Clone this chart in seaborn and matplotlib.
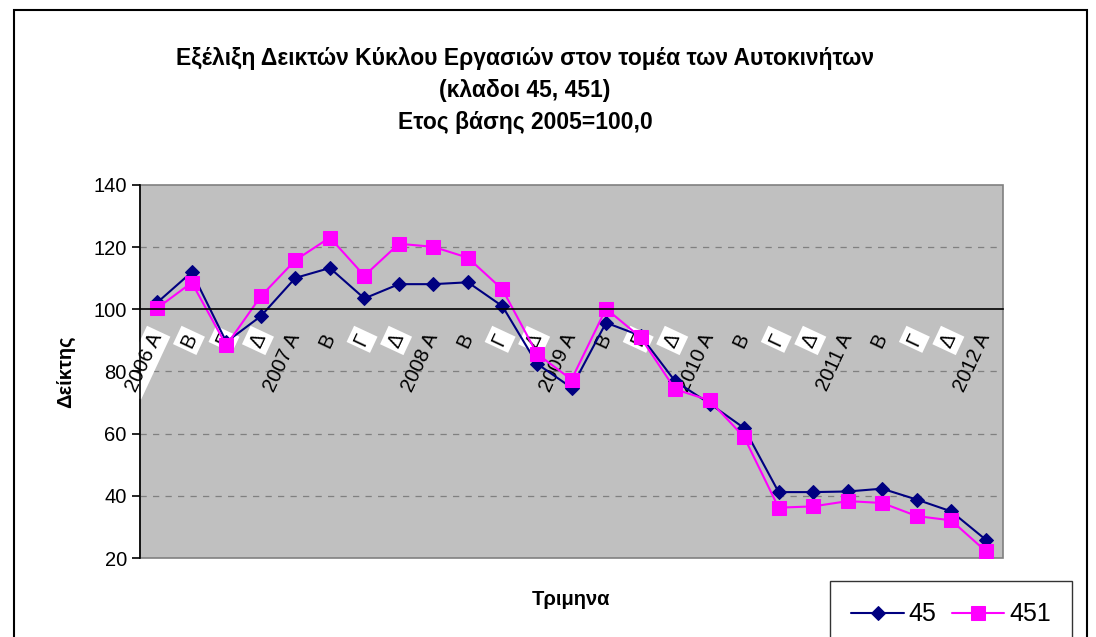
import numpy as np
import pandas as pd
import seaborn as sns
import matplotlib.pyplot as plt
from matplotlib.patches import Rectangle

quarters = ['2006 A', 'B', 'Γ', 'Δ', '2007 A', 'B', 'Γ', 'Δ', '2008 A', 'B', 'Γ', 'Δ',
            '2009 A', 'B', 'Γ', 'Δ', '2010 A', 'B', 'Γ', 'Δ', '2011 A', 'B', 'Γ', 'Δ', '2012 A']
s45 = [102.2, 112.0, 89.5, 97.8, 110.1, 113.3, 103.5, 108.1, 108.1, 108.7, 101.0, 82.5,
       74.8, 95.7, 91.5, 76.9, 69.7, 61.8, 41.2, 41.2, 41.4, 42.3, 38.8, 35.0, 25.9]
s451 = [100.4, 108.6, 88.4, 104.2, 115.8, 123.1, 110.8, 121.1, 120.1, 116.6, 106.4, 85.7,
        77.4, 100.2, 91.0, 74.3, 70.7, 58.9, 36.2, 36.6, 38.3, 37.7, 33.5, 32.1, 22.2]

df = pd.DataFrame({'idx': np.arange(len(quarters)), 'q': quarters, '45': s45, '451': s451})

sns.set_style('white')
plt.rcParams['font.family'] = ['Liberation Sans', 'DejaVu Sans']
plt.rcParams['text.color'] = 'black'
plt.rcParams['xtick.color'] = 'black'
plt.rcParams['ytick.color'] = 'black'
plt.rcParams['axes.labelcolor'] = 'black'

fig = plt.figure(figsize=(10.96, 6.37), dpi=100)
ax = fig.add_axes([140 / 1096, 79 / 637, 863 / 1096, 373 / 637])
ax.set_facecolor('#C0C0C0')
ax.patch.set_edgecolor('#808080')
ax.patch.set_linewidth(1.2)

ax.set_ylim(20, 140)
ax.set_xlim(-0.5, len(quarters) - 0.5)
ax.set_yticks(np.arange(20, 141, 20))
for y in [40, 60, 80, 120]:
    ax.axhline(y, color='#808080', lw=0.9, ls=(0, (5, 5)), zorder=0)

sns.lineplot(data=df, x='idx', y='45', color='#000080', marker='D', markersize=7,
             markeredgecolor='#000080', lw=1.5, label='45', ax=ax)
sns.lineplot(data=df, x='idx', y='451', color='#FF00FF', marker='s', markersize=10,
             markeredgecolor='#FF00FF', lw=1.5, label='451', ax=ax)

for s in ['top', 'right']:
    ax.spines[s].set_visible(False)
ax.spines['left'].set_color('black')
ax.spines['left'].set_linewidth(1.2)
ax.spines['bottom'].set_position(('data', 100))
ax.spines['bottom'].set_color('black')
ax.spines['bottom'].set_linewidth(1.2)

ax.set_xticks(df['idx'])
ax.set_xticklabels(quarters, rotation=65, ha='right', va='center', rotation_mode='anchor',
                   fontsize=14.5)
ax.set_xticks(np.arange(-0.5, len(quarters), 1), minor=True)
ax.tick_params(axis='x', which='major', length=0, pad=18)
ax.tick_params(axis='x', which='minor', length=6, width=1.2, color='black', direction='out')
ax.tick_params(axis='y', length=6, width=1.2, color='black', direction='out', left=True,
               labelsize=14.5)
for i, t in enumerate(ax.get_xticklabels()):
    if i < 4 or quarters[i] in ('Γ', 'Δ'):
        t.set_bbox(dict(facecolor='white', edgecolor='none', pad=2.5))

ax.set_ylabel('Δείκτης', fontsize=14.5, fontweight='bold')
ax.set_xlabel('Τριμηνα', fontsize=14.5, fontweight='bold')
ax.xaxis.set_label_coords(0.5, -0.086)
ax.yaxis.set_label_coords(-0.075, 0.5)

fig.text(525 / 1096, 1 - 90 / 637,
         'Εξέλιξη Δεικτών Κύκλου Εργασιών στον τομέα των Αυτοκινήτων\n(κλαδοι 45, 451)\nΕτος βάσης 2005=100,0',
         ha='center', va='center', fontsize=16.5, fontweight='bold', linespacing=1.5)

leg = ax.legend(loc='upper left', bbox_to_anchor=(830 / 1096, 1 - 581 / 637),
                bbox_transform=fig.transFigure, ncol=2, fontsize=18, frameon=True,
                fancybox=False, edgecolor='black', handlelength=2.1, columnspacing=0.6,
                borderpad=0.85, borderaxespad=0, handletextpad=0.2)
leg.get_frame().set_linewidth(1.0)

fig.add_artist(Rectangle((14 / 1096, -0.05), 1073 / 1096, 1.05 - 10 / 637,
                         transform=fig.transFigure, fill=False, edgecolor='black', lw=1.5))

fig.savefig('out.png', dpi=100)
